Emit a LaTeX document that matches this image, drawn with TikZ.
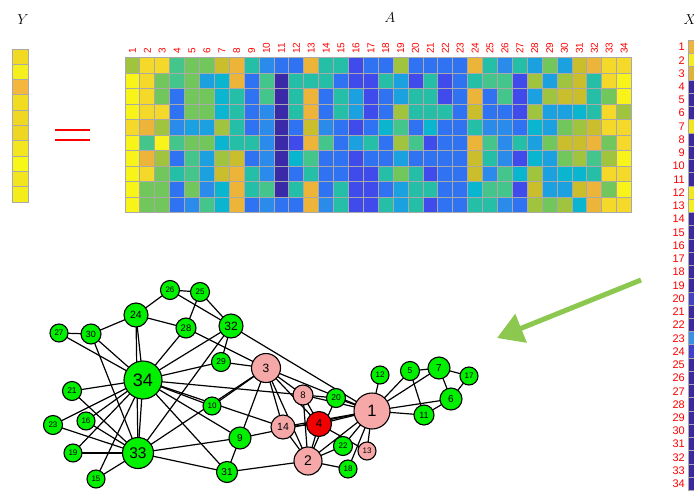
\documentclass[tikz,border=0pt]{standalone}
\usepackage{fontspec}
\setsansfont{Liberation Sans}
\usetikzlibrary{arrows.meta}
\pgfdeclarelayer{edgelayer}
\pgfsetlayers{edgelayer,main}

% parula-like palette for the heat map cells
\definecolor{pa}{HTML}{3B2AA8}
\definecolor{pb}{HTML}{3F4BEA}
\definecolor{pc}{HTML}{2F72F2}
\definecolor{pd}{HTML}{2A8BEA}
\definecolor{pe}{HTML}{1BA0E0}
\definecolor{pf}{HTML}{0AB6CF}
\definecolor{pg}{HTML}{25BEA6}
\definecolor{ph}{HTML}{44C58B}
\definecolor{pi}{HTML}{72C75C}
\definecolor{pj}{HTML}{A0C43E}
\definecolor{pk}{HTML}{CABE2C}
\definecolor{pl}{HTML}{EDB43A}
\definecolor{pm}{HTML}{F4D92A}
\definecolor{pn}{HTML}{F8F41A}
\definecolor{cellgrid}{HTML}{A9A9A9}
\definecolor{nodegreen}{HTML}{00F000}
\definecolor{nodepink}{HTML}{F6A8A8}
\definecolor{nodered}{HTML}{F00000}
\definecolor{arrowgreen}{HTML}{8CC850}

\tikzset{
  cell/.style={draw=cellgrid, line width=0.9pt},
  collabel/.style={text=red, font=\sffamily\fontsize{10}{10}\selectfont, rotate=90, anchor=west, inner sep=0pt},
  rowlabel/.style={text=red, font=\sffamily\fontsize{11}{11}\selectfont, anchor=east, inner sep=0pt},
  mathlabel/.style={font=\fontsize{15}{15}\selectfont, inner sep=0pt},
  gnode/.style={circle, draw=black, line width=1.1pt, inner sep=0pt},
  edge/.style={draw=black, line width=1.2pt},
}

\newcommand\gn[6]{%
  \node[gnode, fill=#5, minimum size=2*#4pt,
        font=\sffamily\fontsize{#6}{#6}\selectfont] (n#1) at (#2,#3) {#1};}

\begin{document}
\begin{tikzpicture}[x=1pt, y=-1pt]
\useasboundingbox (0,0) rectangle (694,496);
\clip (0,0) rectangle (694,496);

% ---- labels of the three matrices
\node[mathlabel] (ylab) at (23,20) {$Y$};
\node[mathlabel] (alab) at (390,18) {$A$};
\node[mathlabel] (xlab) at (690,20) {$X$};

% ---- Y column
\foreach \cc [count=\r] in {F2DA22,F5EF1C,F5B63E,F2DC22,F0D822,EFD622,F4E61E,F8F818,F3E420,F5EC1C}{
  \definecolor{ycell}{HTML}{\cc}
  \filldraw[cell, fill=ycell] (12,{49+(\r-1)*15.3}) rectangle ++(16,15.3);
}

% ---- equals sign
\coordinate (eqa1) at (55,130); \coordinate (eqa2) at (90,130);
\coordinate (eqb1) at (55,140); \coordinate (eqb2) at (90,140);
\draw[red, line width=1.8pt] (eqa1) -- (eqa2);
\draw[red, line width=1.8pt] (eqb1) -- (eqb2);

% ---- matrix A
\foreach \row [count=\r] in {
 {j,m,m,h,i,i,k,l,g,d,c,c,l,g,g,b,c,c,j,c,c,c,c,l,g,d,g,e,i,e,k,l,m,m},
 {n,m,i,h,i,e,f,l,c,h,a,g,g,g,c,b,b,g,e,b,g,b,c,g,h,h,b,j,e,j,k,g,m,n},
 {n,m,i,c,i,i,f,g,c,h,a,g,l,c,g,e,b,c,e,g,g,b,c,l,c,h,b,e,j,k,k,g,i,n},
 {n,m,m,c,i,i,f,g,c,d,a,g,l,c,g,e,b,c,j,g,g,g,c,k,c,c,b,j,e,e,f,g,m,j},
 {m,l,j,d,e,e,j,g,c,d,a,c,k,d,c,b,c,f,h,c,f,c,c,g,d,d,c,f,e,i,j,k,m,m},
 {n,h,n,h,i,i,f,g,g,d,a,b,l,h,c,e,g,c,j,h,b,c,c,l,h,d,g,e,i,k,k,l,i,m},
 {n,l,j,c,h,e,j,k,c,d,a,f,h,c,c,b,c,c,e,c,c,c,c,k,g,d,b,f,e,i,j,h,j,n},
 {n,m,i,g,h,e,k,l,g,d,a,c,g,c,c,b,b,g,i,g,b,c,c,k,d,h,f,j,e,f,f,g,m,m},
 {n,i,i,c,i,d,f,l,g,h,a,g,l,c,g,b,b,c,e,g,g,c,c,f,h,h,b,k,e,e,k,l,i,n},
 {n,i,i,c,d,h,f,l,c,d,c,c,l,d,g,b,b,g,e,g,b,c,c,g,g,d,c,j,i,j,f,l,m,m}}{
  \foreach \v [count=\c] in \row {
    \filldraw[cell, fill=p\v] ({125+(\c-1)*14.9},{57.5+(\r-1)*15.5}) rectangle ++(14.9,15.5);
  }
}
\foreach \c in {1,...,34}{
  \node[collabel] (col\c) at ({125+(\c-0.5)*14.9},54) {\c};
}

% ---- X column
\foreach \cc [count=\r] in {F0B43A,F4EE20,DDB33A,3A2A9E,3A2A9E,3A2A9E,F3E620,3A2A9E,3A2A9E,3A2A9E,3A2A9E,F2E620,F5EE20,3A2A9E,3A2A9E,3A2A9E,3A2A9E,3A2A9E,3A2A9E,4242C4,3A2A9E,3A2A9E,3A8FE8,4040D0,3A2A9E,3A2A9E,3A2A9E,3A2A9E,3A2A9E,3A2A9E,3A2A9E,3A2A9E,3A2A9E,3A2A9E}{
  \definecolor{xcell}{HTML}{\cc}
  \filldraw[cell, fill=xcell] (688,{40.4+(\r-1)*13.24}) rectangle ++(14,13.24);
  \node[rowlabel] (row\r) at (685,{47+(\r-1)*13.24}) {\r};
}

% ---- arrow from the feature column to the graph
\coordinate (arrS) at (641,280);
\coordinate (arrE) at (497,338);
\draw[arrowgreen, line width=5pt, -{Triangle[length=26pt, width=30pt]}] (arrS) -- (arrE);

% ---- karate club graph: nodes
\gn{1}{372}{411}{18}{nodepink}{16.5}
\gn{2}{308}{461}{14}{nodepink}{14}
\gn{3}{266}{368}{14.5}{nodepink}{12}
\gn{4}{319}{424}{12.5}{nodered}{11.5}
\gn{5}{410}{371}{9.5}{nodegreen}{8.5}
\gn{6}{451}{399}{11}{nodegreen}{10}
\gn{7}{439}{368}{11}{nodegreen}{10}
\gn{8}{303}{395}{10}{nodepink}{9.5}
\gn{9}{240}{438}{11}{nodegreen}{10}
\gn{10}{212}{406}{9}{nodegreen}{8}
\gn{11}{424}{415}{10}{nodegreen}{9}
\gn{12}{380}{375}{9}{nodegreen}{8}
\gn{13}{367}{451}{9}{nodepink}{8}
\gn{14}{283}{427}{12}{nodepink}{10.5}
\gn{15}{96}{479}{9}{nodegreen}{8}
\gn{16}{86}{421}{9}{nodegreen}{8}
\gn{17}{469}{376}{9}{nodegreen}{8}
\gn{18}{348}{469}{9}{nodegreen}{8}
\gn{19}{73}{453}{9}{nodegreen}{8}
\gn{20}{336}{398}{9.5}{nodegreen}{8.5}
\gn{21}{72}{391}{9.5}{nodegreen}{8.5}
\gn{22}{343}{446}{9.5}{nodegreen}{8}
\gn{23}{53}{425}{9.5}{nodegreen}{8}
\gn{24}{136}{315}{12}{nodegreen}{10.5}
\gn{25}{200}{292}{9.5}{nodegreen}{8}
\gn{26}{170}{290}{9.5}{nodegreen}{8}
\gn{27}{59}{333}{9}{nodegreen}{8}
\gn{28}{186}{328}{10}{nodegreen}{9.5}
\gn{29}{221}{362}{9.5}{nodegreen}{8.5}
\gn{30}{91}{334}{10}{nodegreen}{9}
\gn{31}{227}{472}{10.5}{nodegreen}{10}
\gn{32}{231}{326}{12}{nodegreen}{12}
\gn{33}{138}{453}{15.5}{nodegreen}{15.5}
\gn{34}{143}{380}{19}{nodegreen}{18}

% ---- karate club graph: edges, kept behind the nodes
\begin{pgfonlayer}{edgelayer}
\foreach \a/\b in {1/2,1/3,1/4,1/5,1/6,1/7,1/8,1/9,1/11,1/12,1/13,1/14,1/18,1/20,1/22,1/32,
  2/3,2/4,2/8,2/14,2/18,2/20,2/22,2/31,
  3/4,3/8,3/9,3/10,3/14,3/28,3/29,3/33,
  4/8,4/13,4/14,5/7,5/11,6/7,6/11,6/17,7/17,
  9/31,9/33,9/34,10/34,14/34,15/33,15/34,16/33,16/34,19/33,19/34,20/34,21/33,21/34,
  23/33,23/34,24/26,24/28,24/30,24/33,24/34,25/26,25/28,25/32,26/32,27/30,27/34,
  28/34,29/32,29/34,30/33,30/34,31/33,31/34,32/33,32/34,33/34}{
  \draw[edge] (n\a.center) -- (n\b.center);
}
\end{pgfonlayer}
\end{tikzpicture}
\end{document}
